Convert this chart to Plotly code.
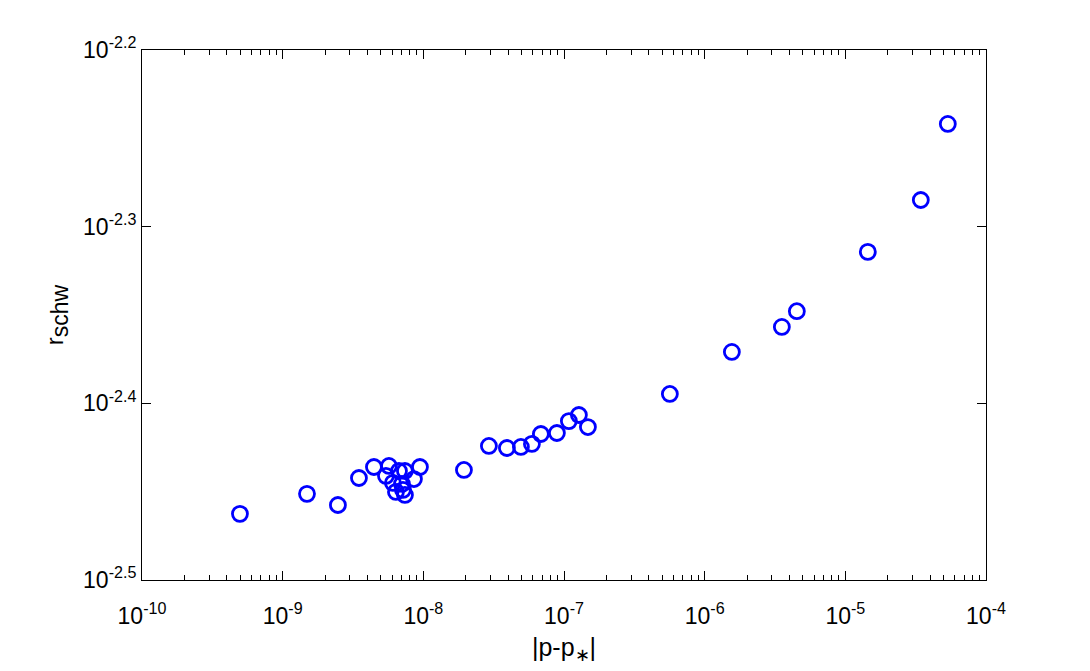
import plotly.graph_objects as go

# |p - p*| values and the matching r_schw values
dp = [4.97e-10, 1.489e-9, 2.47e-9, 3.486e-9, 4.456e-9, 5.694e-9, 5.423e-9,
      6.08e-9, 6.388e-9, 6.709e-9, 7.046e-9, 7.161e-9, 7.399e-9, 7.399e-9,
      8.574e-9, 9.458e-9, 1.944e-8, 2.925e-8, 3.928e-8, 4.939e-8, 5.914e-8,
      6.852e-8, 8.902e-8, 1.083e-7, 1.276e-7, 1.479e-7, 5.657e-7, 1.561e-6,
      3.538e-6, 4.522e-6, 1.445e-5, 3.440e-5, 5.352e-5]
r_schw = [3.447e-3, 3.538e-3, 3.487e-3, 3.612e-3, 3.664e-3, 3.669e-3, 3.622e-3,
          3.589e-3, 3.547e-3, 3.645e-3, 3.584e-3, 3.556e-3, 3.645e-3, 3.533e-3,
          3.607e-3, 3.664e-3, 3.650e-3, 3.766e-3, 3.756e-3, 3.761e-3, 3.776e-3,
          3.825e-3, 3.830e-3, 3.890e-3, 3.921e-3, 3.860e-3, 4.030e-3, 4.257e-3,
          4.398e-3, 4.489e-3, 4.850e-3, 5.189e-3, 5.730e-3]

x_exp = [-10, -9, -8, -7, -6, -5, -4]
y_exp = ["-2.5", "-2.4", "-2.3", "-2.2"]

x_minor = [m * 10.0 ** e for e in x_exp[:-1] for m in range(2, 10)]

fnt = "Liberation Sans, Arial, sans-serif"

fig = go.Figure()
fig.add_trace(go.Scatter(
    x=dp, y=r_schw, mode="markers",
    marker=dict(symbol="circle-open", size=15, color="#0000ff",
                line=dict(width=2.8, color="#0000ff")),
    showlegend=False))

fig.update_xaxes(
    type="log", range=[-10, -4],
    tickvals=[10.0 ** e for e in x_exp],
    ticktext=["10<sup>%d</sup>" % e for e in x_exp],
    ticks="inside", ticklen=9, tickwidth=1, tickcolor="black",
    minor=dict(tickvals=x_minor, ticks="inside", ticklen=5, tickcolor="black"),
    showline=True, linecolor="black", linewidth=1, mirror="ticks",
    showgrid=False, zeroline=False,
    tickfont=dict(family=fnt, size=23, color="black"),
    ticklabelstandoff=15,
    title=dict(text="|p-p<sub>∗</sub>|", font=dict(family=fnt, size=25, color="black"),
               standoff=10))

fig.update_yaxes(
    type="log", range=[-2.5, -2.2],
    tickvals=[10.0 ** float(e) for e in y_exp],
    ticktext=["10<sup>%s</sup>" % e for e in y_exp],
    ticks="inside", ticklen=9, tickwidth=1, tickcolor="black",
    showline=True, linecolor="black", linewidth=1, mirror="ticks",
    showgrid=False, zeroline=False,
    tickfont=dict(family=fnt, size=23, color="black"),
    title=dict(text="r<sub><span style='font-size:23px'>schw</span></sub>",
               font=dict(family=fnt, size=24, color="black"),
               standoff=12))

fig.update_layout(
    width=1082, height=663,
    margin=dict(l=134, r=104, t=42, b=91),
    plot_bgcolor="white", paper_bgcolor="white",
    font=dict(family=fnt, color="black"))

fig.write_html("out.html")
